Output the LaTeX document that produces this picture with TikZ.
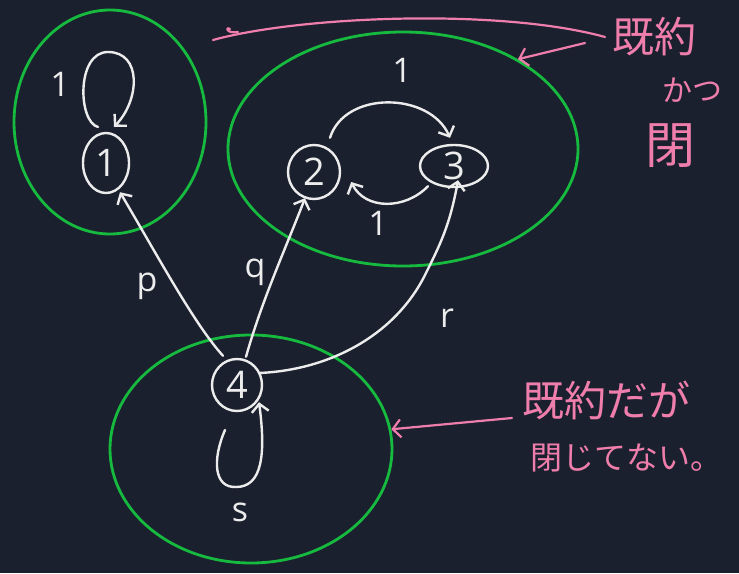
\documentclass[tikz,border=0pt]{standalone}
\usepackage{fontspec}
\setmainfont{Open Sans}
\newfontfamily\jpfont{Noto Sans CJK JP}
\usetikzlibrary{arrows.meta,shapes.geometric,calc}
\definecolor{bgc}{RGB}{27,32,46}
\definecolor{grn}{RGB}{22,186,62}
\definecolor{pnk}{RGB}{240,126,172}
\definecolor{wht}{RGB}{236,236,236}
\tikzset{
  wline/.style={draw=wht,line width=2.4pt,line cap=round,line join=round},
  warr/.style={wline,-{Straight Barb[length=8pt,width=17pt,line width=2.4pt]}},
  state/.style={ellipse,wline,inner sep=0pt,text=wht,font=\fontsize{38}{38}\selectfont},
  gcirc/.style={ellipse,draw=grn,line width=2.8pt,inner sep=0pt},
  plabel/.style={text=wht,font=\fontsize{34}{34}\selectfont,inner sep=0pt},
  pline/.style={draw=pnk,line width=2.2pt,line cap=round,line join=round},
  parr/.style={pline,-{Straight Barb[length=8pt,width=18pt,line width=2.2pt]}},
  jtext/.style={text=pnk,inner sep=0pt,anchor=west}
}
\begin{document}
\begin{tikzpicture}[x=1pt,y=-1pt]
\fill[bgc] (0,0) rectangle (739,573);
\useasboundingbox (0,0) rectangle (739,573);
% green groups
\node[gcirc,minimum width=192pt,minimum height=224pt] (g1) at (110,122) {};
\node[gcirc,minimum width=350pt,minimum height=234pt] (g2) at (403,149) {};
\node[gcirc,minimum width=282pt,minimum height=228pt] (g3) at (251,449) {};
% states
\node[state,minimum width=46pt,minimum height=60pt] (n1) at (106,163) {1};
\node[state,minimum width=52pt,minimum height=54pt] (n2) at (314,172) {2};
\node[state,minimum width=68pt,minimum height=42pt] (n3) at (454,166) {3};
\node[state,minimum width=50pt,minimum height=52pt] (n4) at (237,385) {4};
% self loop on 1
\coordinate (l1s) at (98,127);
\draw[warr] (l1s) .. controls (78,122) and (76,52) .. (108,52)
  .. controls (142,52) and (140,100) .. ($(n1.north)+(8,-5)$);
\node[plabel] (lab11) at (60,84) {1};
% arcs between 2 and 3
\draw[warr] ($(n2.north)+(16,-6)$) .. controls (345,90) and (430,92) .. ($(n3.north)+(-4,-6)$);
\node[plabel] (lab23) at (402,70) {1};
\draw[warr] ($(n3.south)+(-26,-2)$) .. controls (405,210) and (365,210) .. ($(n2.east)+(10,10)$);
\node[plabel] (lab32) at (378,223) {1};
% arrows from 4
\draw[warr] ($(n4.north)+(-14,-2)$) .. controls (195,325) and (160,260) .. ($(n1.south)+(14,-2)$);
\node[plabel] (labp) at (147,286) {p};
\draw[warr] ($(n4.north)+(9,-1)$) .. controls (262,300) and (285,250) .. ($(n2.south)+(-9,-2)$);
\node[plabel] (labq) at (255,272) {q};
\draw[warr] ($(n4.east)+(-4,-12)$) .. controls (330,370) and (395,335) .. (425,275)
  .. controls (440,245) and (450,225) .. ($(n3.south)+(4,-8)$);
\node[plabel] (labr) at (447,318) {r};
% self loop on 4
\coordinate (l4s) at (225,430);
\draw[warr] (l4s) .. controls (212,460) and (214,488) .. (236,487)
  .. controls (262,487) and (266,455) .. ($(n4.south)+(22,-10)$);
\node[plabel] (labs) at (240,512) {s};
% pink annotations
\coordinate (pt1) at (213,40);
\coordinate (pt2) at (605,37);
\draw[pline] (pt1) .. controls (300,16) and (500,8) .. (pt2);
\draw[pline] (230,29) .. controls (225,26) and (226,34) .. (238,32);
\coordinate (pa1) at (585,43);
\draw[parr] (pa1) -- (g2.38);
\node[jtext,font=\jpfont\fontsize{42}{42}\selectfont] (j1) at (612,37) {既約};
\node[jtext,font=\jpfont\fontsize{30}{30}\selectfont] (j2) at (662,90) {かつ};
\node[jtext,font=\jpfont\fontsize{50}{50}\selectfont] (j3) at (645,146) {閉};
\coordinate (pb1) at (512,418);
\draw[parr] (pb1) -- (g3.8);
\node[jtext,font=\jpfont\fontsize{42}{42}\selectfont] (j4) at (522,400) {既約だが};
\node[jtext,font=\jpfont\fontsize{32}{32}\selectfont] (j5) at (530,458) {閉じてない。};
\end{tikzpicture}
\end{document}
